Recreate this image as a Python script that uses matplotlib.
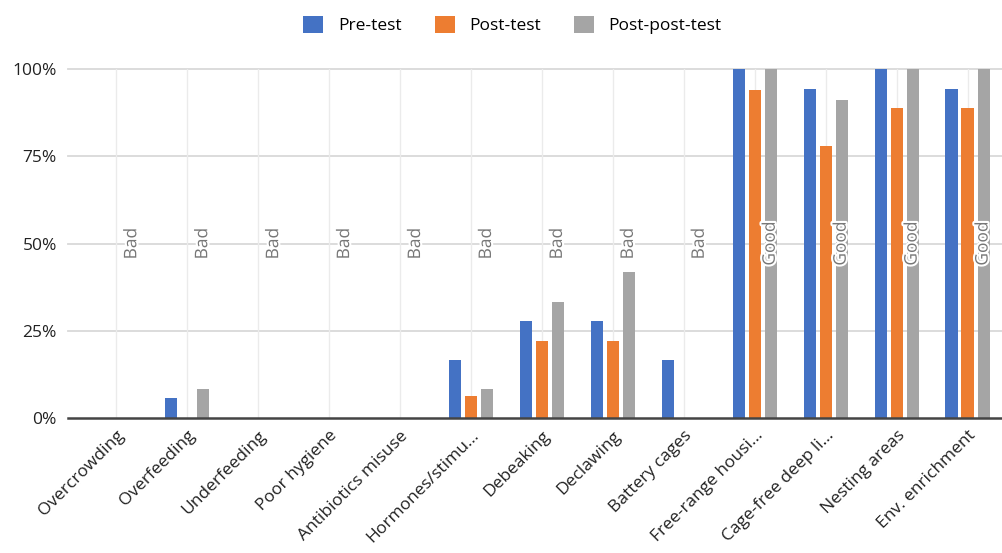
import matplotlib
matplotlib.use("Agg")
import matplotlib.pyplot as plt
import matplotlib.patheffects as pe
import numpy as np

categories = ["Overcrowding", "Overfeeding", "Underfeeding", "Poor hygiene",
              "Antibiotics misuse", "Hormones/stimu...", "Debeaking", "Declawing",
              "Battery cages", "Free-range housi...", "Cage-free deep li...",
              "Nesting areas", "Env. enrichment"]
pre_test = [0, 5.6, 0, 0, 0, 16.7, 27.8, 27.8, 16.7, 100, 94.4, 100, 94.4]
post_test = [0, 0, 0, 0, 0, 6.25, 22.2, 22.2, 0, 94.1, 77.8, 88.9, 88.9]
post_post_test = [0, 8.3, 0, 0, 0, 8.3, 33.3, 41.7, 0, 100, 91.2, 100, 100]
ratings = ["Bad"] * 9 + ["Good"] * 4
series_names = ["Pre-test", "Post-test", "Post-post-test"]
colors = ["#4472C4", "#ED7D31", "#A5A5A5"]
yticks = [0, 25, 50, 75, 100]
ytick_labels = ["0%", "25%", "50%", "75%", "100%"]

plt.rcParams['font.family'] = ['Open Sans', 'DejaVu Sans']

fig = plt.figure(figsize=(10.03, 5.53), dpi=100)
ax = fig.add_axes([68 / 1003, 1 - 418 / 553, 935 / 1003, (418 - 69) / 553])

x = np.arange(len(categories))
offset = 0.226
width = 0.17
for i, (vals, name, c) in enumerate(zip([pre_test, post_test, post_post_test], series_names, colors)):
    ax.bar(x + (i - 1) * offset, vals, width, color=c, label=name, zorder=3)

for xi, r in zip(x, ratings):
    ax.text(xi + offset, 50, r, rotation=90, ha="center", va="center",
            fontsize=12.5, color="#777777", zorder=5,
            path_effects=[pe.withStroke(linewidth=3, foreground="white")])

ax.set_xlim(-0.68, 12.5)
ax.set_ylim(0, 100)
ax.set_yticks(yticks)
ax.set_yticklabels(ytick_labels, fontsize=12.5, color="#222222")
ax.set_xticks(x)
ax.set_xticklabels(categories, rotation=45, ha="right", rotation_mode="anchor",
                   fontsize=12.5, color="#222222")
ax.tick_params(axis="both", length=0, pad=8)
ax.tick_params(axis="x", pad=7)

for y in yticks[1:]:
    ax.axhline(y, color="#d9d9d9", lw=1.3, zorder=1, clip_on=False)
for xi in x:
    ax.axvline(xi, color="#ebebeb", lw=1, zorder=1)
ax.axhline(0, color="#444444", lw=1.8, zorder=4, clip_on=False)

for s in ax.spines.values():
    s.set_visible(False)

handles, labels = ax.get_legend_handles_labels()
fig.legend(handles, labels, loc="center", bbox_to_anchor=(0.511, 1 - 25 / 553),
           ncol=3, frameon=False, fontsize=12.5, handlelength=1.15, handleheight=1.15,
           columnspacing=1.9, handletextpad=0.85)

fig.savefig("out.png", dpi=100)
